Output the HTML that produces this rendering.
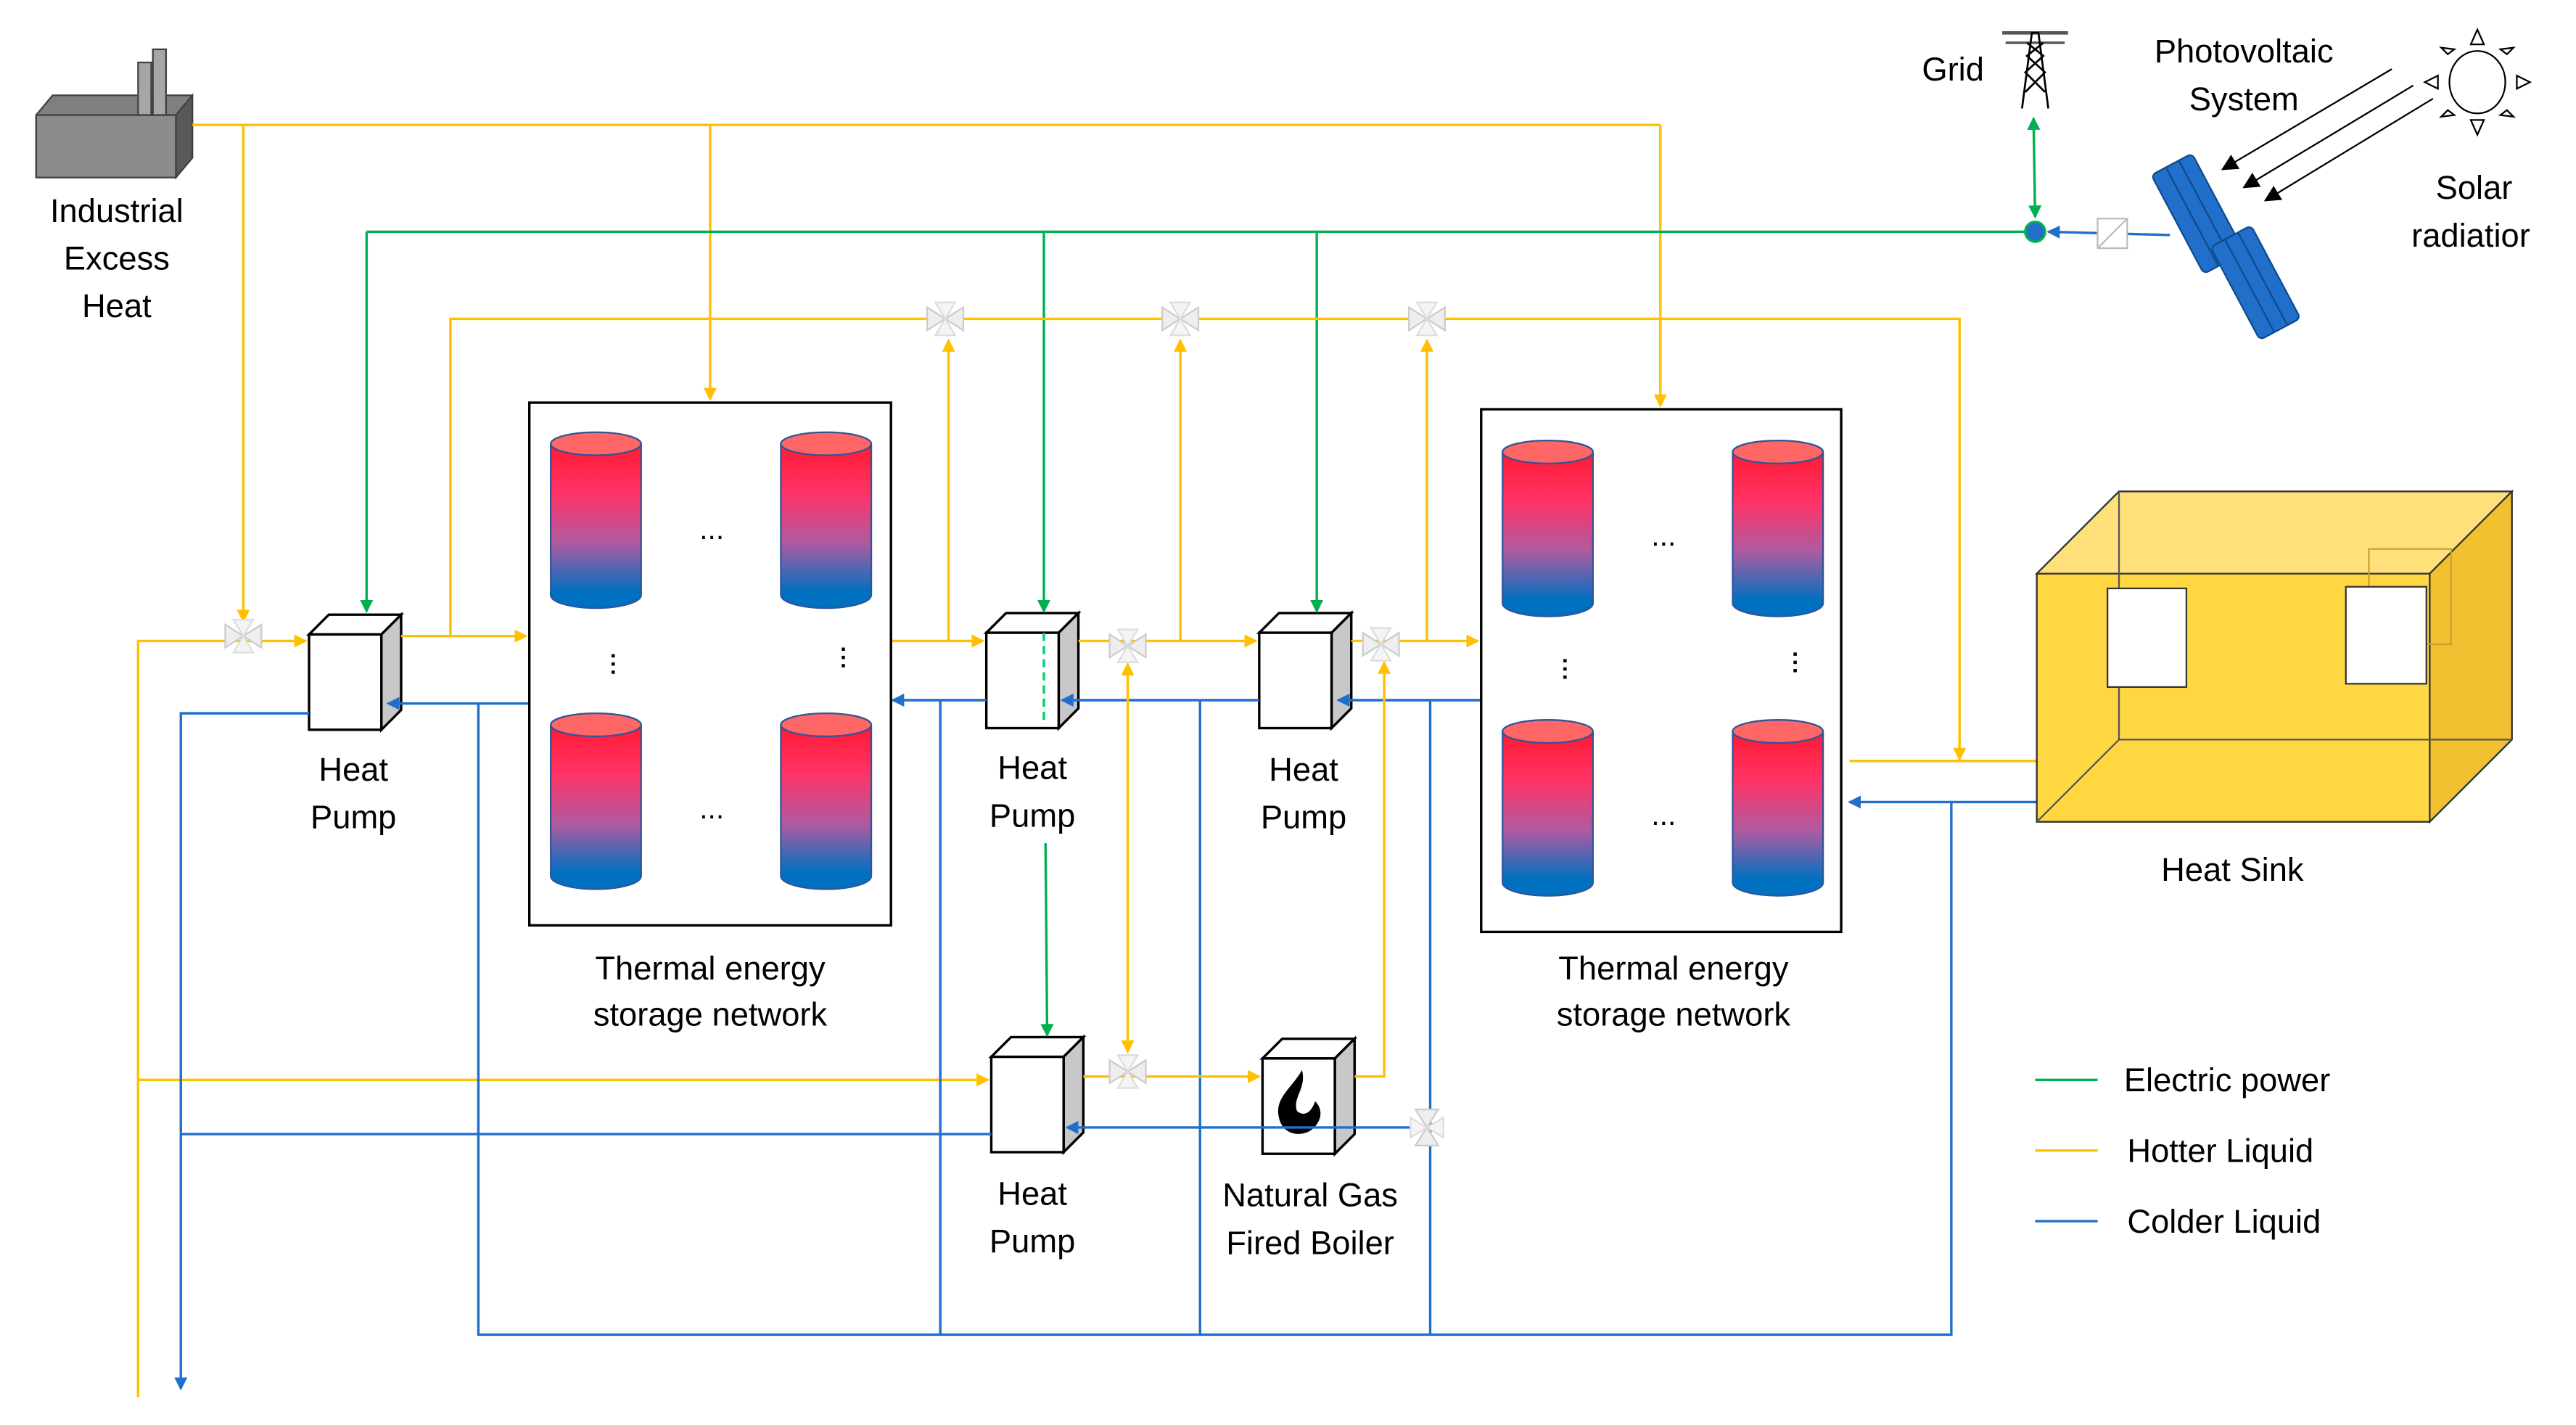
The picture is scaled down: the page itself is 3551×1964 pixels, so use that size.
<!DOCTYPE html>
<html><head><meta charset="utf-8"><style>html,body{margin:0;padding:0;background:#fff}svg{display:block}</style></head>
<body>
<svg width="3551" height="1964" viewBox="0 0 1567 867" preserveAspectRatio="none" xmlns="http://www.w3.org/2000/svg" font-family="Liberation Sans, sans-serif">
<defs>
<marker id="ay" markerWidth="8" markerHeight="8" refX="7" refY="4" orient="auto" markerUnits="userSpaceOnUse"><path d="M0,0 L8,4 L0,8z" fill="#FFC000"/></marker>
<marker id="ab" markerWidth="8" markerHeight="8" refX="7" refY="4" orient="auto" markerUnits="userSpaceOnUse"><path d="M0,0 L8,4 L0,8z" fill="#1F6FCB"/></marker>
<marker id="ag" markerWidth="8" markerHeight="8" refX="7" refY="4" orient="auto" markerUnits="userSpaceOnUse"><path d="M0,0 L8,4 L0,8z" fill="#00B050"/></marker>
<marker id="ayS" markerWidth="8" markerHeight="8" refX="1" refY="4" orient="auto" markerUnits="userSpaceOnUse"><path d="M8,0 L0,4 L8,8z" fill="#FFC000"/></marker>
<marker id="agS" markerWidth="8" markerHeight="8" refX="1" refY="4" orient="auto" markerUnits="userSpaceOnUse"><path d="M8,0 L0,4 L8,8z" fill="#00B050"/></marker>
<marker id="ak" markerWidth="10" markerHeight="10" refX="9" refY="5" orient="auto" markerUnits="userSpaceOnUse"><path d="M0,0 L10,5 L0,10z" fill="#000"/></marker>
<linearGradient id="cg" x1="0" y1="0" x2="0" y2="1"><stop offset="0" stop-color="#FF1A33"/><stop offset="0.3" stop-color="#FF3366"/><stop offset="0.6" stop-color="#B05AA0"/><stop offset="0.9" stop-color="#0070C0"/><stop offset="1" stop-color="#0070C0"/></linearGradient>
<g id="cyl"><path d="M0,8 L0,100 A27.5,8 0 0 0 55,100 L55,8" fill="url(#cg)" stroke="#2F5597" stroke-width="1"/><ellipse cx="27.5" cy="8" rx="27.5" ry="7" fill="#FF6666" stroke="#2F5597" stroke-width="1"/></g>
<g id="cube"><polygon points="0,12 12,0 56,0 44,12" fill="#fff" stroke="#000" stroke-width="1.5"/><polygon points="44,12 56,0 56,58 44,70" fill="#C8C8C8" stroke="#000" stroke-width="1.5"/><rect x="0" y="12" width="44" height="58" fill="#fff" stroke="#000" stroke-width="1.5"/></g>
<g id="valve"><polygon points="-11,-7 0,0 -11,7" fill="#eee" stroke="#ccc"/><polygon points="11,-7 0,0 11,7" fill="#eee" stroke="#ccc"/><polygon points="-6,-10 0,0 6,-10" fill="#f4f4f4" stroke="#ddd"/><polygon points="-6,10 0,0 6,10" fill="#f4f4f4" stroke="#ddd"/></g>
<g id="valveV"><polygon points="-7,-11 0,0 7,-11" fill="#eee" stroke="#ccc"/><polygon points="-7,11 0,0 7,11" fill="#eee" stroke="#ccc"/><polygon points="-10,-6 0,0 -10,6" fill="#f4f4f4" stroke="#ddd"/><polygon points="10,-6 0,0 10,6" fill="#f4f4f4" stroke="#ddd"/></g>
</defs>

<!-- Factory -->
<polygon points="22,70 32,58 117,58 117,96 107,108 22,108" fill="#7F7F7F" stroke="#404040"/>
<polygon points="22,70 107,70 107,108 22,108" fill="#8C8C8C" stroke="#404040"/>
<polygon points="107,70 117,58 117,96 107,108" fill="#595959" stroke="#404040"/>
<rect x="84" y="38" width="8" height="32" fill="#A6A6A6" stroke="#404040"/>
<rect x="93" y="30" width="8" height="40" fill="#A6A6A6" stroke="#404040"/>
<g font-size="20" text-anchor="middle" fill="#000">
<text x="71" y="135">Industrial</text><text x="71" y="164">Excess</text><text x="71" y="193">Heat</text>
</g>

<!-- cubes -->
<use href="#cube" x="188" y="374"/>
<use href="#cube" x="600" y="373"/>
<use href="#cube" x="766" y="373"/>
<use href="#cube" x="603" y="631"/>
<use href="#cube" x="768" y="632"/>
<path d="M792,651 C786,662 775,668 778,680 C780,690 790,692 797,688 C803,684 806,676 800,670 C798,676 794,680 789,676 C786,668 795,662 792,651z" fill="#000"/>

<g fill="none" stroke-width="1.5">
<polyline points="117,76 1010,76" stroke="#FFC000"/>
<line x1="148" y1="76" x2="148" y2="378" stroke="#FFC000" marker-end="url(#ay)"/>
<line x1="432" y1="76" x2="432" y2="243" stroke="#FFC000" marker-end="url(#ay)"/>
<line x1="1010" y1="76" x2="1010" y2="247" stroke="#FFC000" marker-end="url(#ay)"/>
<line x1="223" y1="141" x2="1238" y2="141" stroke="#00B050"/>
<line x1="223" y1="141" x2="223" y2="372" stroke="#00B050" marker-end="url(#ag)"/>
<line x1="635" y1="141" x2="635" y2="372" stroke="#00B050" marker-end="url(#ag)"/>
<line x1="635" y1="385" x2="635" y2="440" stroke="#00D070" stroke-dasharray="5,3"/>
<line x1="636" y1="513" x2="637" y2="630" stroke="#00B050" marker-end="url(#ag)"/>
<line x1="801" y1="141" x2="801" y2="372" stroke="#00B050" marker-end="url(#ag)"/>
<line x1="1237" y1="72" x2="1238" y2="132" stroke="#00B050" marker-start="url(#agS)" marker-end="url(#ag)"/>
<polyline points="244,387 274,387 274,194 1192,194 1192,462" stroke="#FFC000" marker-end="url(#ay)"/>
<line x1="274" y1="387" x2="320" y2="387" stroke="#FFC000" marker-end="url(#ay)"/>
<line x1="577" y1="390" x2="577" y2="207" stroke="#FFC000" marker-end="url(#ay)"/>
<line x1="718" y1="390" x2="718" y2="207" stroke="#FFC000" marker-end="url(#ay)"/>
<line x1="868" y1="390" x2="868" y2="207" stroke="#FFC000" marker-end="url(#ay)"/>
<polyline points="84,850 84,390 186,390" stroke="#FFC000" marker-end="url(#ay)"/>
<line x1="84" y1="657" x2="601" y2="657" stroke="#FFC000" marker-end="url(#ay)"/>
<polyline points="188,434 110,434 110,845" stroke="#1F6FCB" marker-end="url(#ab)"/>
<line x1="110" y1="690" x2="603" y2="690" stroke="#1F6FCB"/>
<line x1="322" y1="428" x2="236" y2="428" stroke="#1F6FCB" marker-end="url(#ab)"/>
<polyline points="291,428 291,812 1187,812 1187,488 1240,488" stroke="#1F6FCB"/>
<line x1="1187" y1="488" x2="1125" y2="488" stroke="#1F6FCB" marker-end="url(#ab)"/>
<line x1="1125" y1="463" x2="1272" y2="463" stroke="#FFC000" marker-end="url(#ay)"/>
<line x1="542" y1="390" x2="598" y2="390" stroke="#FFC000" marker-end="url(#ay)"/>
<line x1="656" y1="390" x2="764" y2="390" stroke="#FFC000" marker-end="url(#ay)"/>
<line x1="822" y1="390" x2="899" y2="390" stroke="#FFC000" marker-end="url(#ay)"/>
<line x1="600" y1="426" x2="543" y2="426" stroke="#1F6FCB" marker-end="url(#ab)"/>
<line x1="572" y1="426" x2="572" y2="812" stroke="#1F6FCB"/>
<line x1="766" y1="426" x2="646" y2="426" stroke="#1F6FCB" marker-end="url(#ab)"/>
<line x1="730" y1="426" x2="730" y2="812" stroke="#1F6FCB"/>
<line x1="901" y1="426" x2="814" y2="426" stroke="#1F6FCB" marker-end="url(#ab)"/>
<line x1="870" y1="426" x2="870" y2="812" stroke="#1F6FCB"/>
<line x1="686" y1="404" x2="686" y2="640" stroke="#FFC000" marker-start="url(#ayS)" marker-end="url(#ay)"/>
<line x1="659" y1="655" x2="766" y2="655" stroke="#FFC000" marker-end="url(#ay)"/>
<polyline points="824,655 842,655 842,403" stroke="#FFC000" marker-end="url(#ay)"/>
<line x1="868" y1="686" x2="649" y2="686" stroke="#1F6FCB" marker-end="url(#ab)"/>
<line x1="1320" y1="143" x2="1246" y2="141" stroke="#1F6FCB" marker-end="url(#ab)"/>
<line x1="1455" y1="42" x2="1352" y2="103" stroke="#000" stroke-width="1" marker-end="url(#ak)"/>
<line x1="1468" y1="52" x2="1365" y2="114" stroke="#000" stroke-width="1" marker-end="url(#ak)"/>
<line x1="1480" y1="60" x2="1378" y2="122" stroke="#000" stroke-width="1" marker-end="url(#ak)"/>
</g>

<circle cx="1238" cy="141" r="6" fill="#1F6FCB" stroke="#00B050" stroke-width="1.5"/>
<rect x="1276" y="133" width="18" height="18" fill="#fff" stroke="#bbb"/>
<line x1="1276" y1="151" x2="1294" y2="133" stroke="#bbb"/>
<g stroke="#000" stroke-width="1.2" fill="none">
<line x1="1218" y1="20" x2="1258" y2="20" stroke="#555" stroke-width="2"/>
<line x1="1220" y1="26" x2="1256" y2="26" stroke="#555" stroke-width="1.5"/>
<polyline points="1230,66 1236,20 1240,20 1246,66"/>
<path d="M1232,56 L1244,44 L1233,34 L1243,26 M1244,56 L1232,44 L1243,34 L1233,26"/>
</g>
<text x="1188" y="49" font-size="20" text-anchor="middle">Grid</text>
<text x="1365" y="38" font-size="20" text-anchor="middle">Photovoltaic</text>
<text x="1365" y="67" font-size="20" text-anchor="middle">System</text>
<text x="1505" y="121" font-size="20" text-anchor="middle">Solar</text>
<text x="1503" y="150" font-size="20" text-anchor="middle">radiatior</text>
<!-- solar panel -->
<g fill="#1F6FCB" stroke="#104A8C" stroke-width="1">
<g transform="translate(1337,130) rotate(62)"><rect x="-34" y="-14" width="68" height="28" rx="3"/><line x1="-34" y1="-5" x2="34" y2="-5"/><line x1="-34" y1="4" x2="34" y2="4"/></g>
<g transform="translate(1372,172) rotate(62)"><rect x="-32" y="-14" width="64" height="28" rx="3"/><line x1="-32" y1="-5" x2="32" y2="-5"/><line x1="-32" y1="4" x2="32" y2="4"/></g>
</g>
<g fill="#fff" stroke="#000" stroke-width="1">
<ellipse cx="1507" cy="50" rx="17" ry="19"/>
<polygon points="1503,27 1507,18 1511,27"/><polygon points="1503,73 1507,82 1511,73"/>
<polygon points="1483,46 1475,50 1483,54"/><polygon points="1531,46 1539,50 1531,54"/>
<polygon points="1489,33 1485,29 1493,30"/><polygon points="1525,33 1529,29 1521,30"/>
<polygon points="1489,67 1485,71 1493,70"/><polygon points="1525,67 1529,71 1521,70"/>
</g>

<!-- TES boxes -->
<rect x="322" y="245" width="220" height="318" fill="#fff" stroke="#000" stroke-width="1.5"/>
<use href="#cyl" x="335" y="262"/><use href="#cyl" x="475" y="262"/>
<use href="#cyl" x="335" y="433"/><use href="#cyl" x="475" y="433"/>
<rect x="901" y="249" width="219" height="318" fill="#fff" stroke="#000" stroke-width="1.5"/>
<use href="#cyl" x="914" y="267"/><use href="#cyl" x="1054" y="267"/>
<use href="#cyl" x="914" y="437"/><use href="#cyl" x="1054" y="437"/>
<g font-size="18" text-anchor="middle">
<text x="433" y="328">...</text><text x="433" y="498">...</text>
<text x="1012" y="332">...</text><text x="1012" y="502">...</text>
</g>
<g fill="#000">
<rect x="372" y="398" width="2" height="2"/><rect x="372" y="403" width="2" height="2"/><rect x="372" y="408" width="2" height="2"/>
<rect x="512" y="394" width="2" height="2"/><rect x="512" y="399" width="2" height="2"/><rect x="512" y="404" width="2" height="2"/>
<rect x="951" y="401" width="2" height="2"/><rect x="951" y="406" width="2" height="2"/><rect x="951" y="411" width="2" height="2"/>
<rect x="1091" y="397" width="2" height="2"/><rect x="1091" y="402" width="2" height="2"/><rect x="1091" y="407" width="2" height="2"/>
</g>
<g font-size="20" text-anchor="middle">
<text x="432" y="596">Thermal  energy</text><text x="432" y="624">storage network</text>
<text x="1018" y="596">Thermal energy</text><text x="1018" y="624">storage network</text>
</g>

<g font-size="20" text-anchor="middle">
<text x="215" y="475">Heat</text><text x="215" y="504">Pump</text>
<text x="628" y="474">Heat</text><text x="628" y="503">Pump</text>
<text x="793" y="475">Heat</text><text x="793" y="504">Pump</text>
<text x="628" y="733">Heat</text><text x="628" y="762">Pump</text>
<text x="797" y="734">Natural Gas</text><text x="797" y="763">Fired Boiler</text>
</g>

<use href="#valve" x="148" y="387"/>
<use href="#valve" x="575" y="194"/><use href="#valve" x="718" y="194"/><use href="#valve" x="868" y="194"/>
<use href="#valve" x="686" y="393"/><use href="#valve" x="840" y="392"/>
<use href="#valve" x="686" y="652"/>
<use href="#valveV" x="868" y="686"/>

<!-- heat sink -->
<polygon points="1289,299 1528,299 1528,450 1478,500 1239,500 1239,349" fill="#FFD54F" stroke="#333" stroke-width="1"/>
<polygon points="1239,349 1289,299 1528,299 1478,349" fill="#FFE07A" stroke="#333" stroke-width="1"/>
<polygon points="1478,349 1528,299 1528,450 1478,500" fill="#F0C030" stroke="#333" stroke-width="1"/>
<polygon points="1239,349 1478,349 1478,500 1239,500" fill="#FFD740" fill-opacity="0.8" stroke="#333" stroke-width="1"/>
<polyline points="1289,299 1289,450 1528,450" fill="none" stroke="#555" stroke-width="1"/>
<line x1="1239" y1="500" x2="1289" y2="450" stroke="#555"/>
<rect x="1441" y="334" width="50" height="58" fill="none" stroke="#c9a030"/>
<rect x="1282" y="358" width="48" height="60" fill="#fff" stroke="#333"/>
<rect x="1427" y="357" width="49" height="59" fill="#fff" stroke="#333"/>
<text x="1358" y="536" font-size="20" text-anchor="middle">Heat Sink</text>

<line x1="1238" y1="657" x2="1276" y2="657" stroke="#00B050" stroke-width="1.5"/>
<line x1="1238" y1="700" x2="1276" y2="700" stroke="#FFC000" stroke-width="1.5"/>
<line x1="1238" y1="743" x2="1276" y2="743" stroke="#1F6FCB" stroke-width="1.5"/>
<g font-size="20"><text x="1292" y="664">Electric power</text><text x="1294" y="707">Hotter Liquid</text><text x="1294" y="750">Colder Liquid</text></g>
</svg>
</body></html>
